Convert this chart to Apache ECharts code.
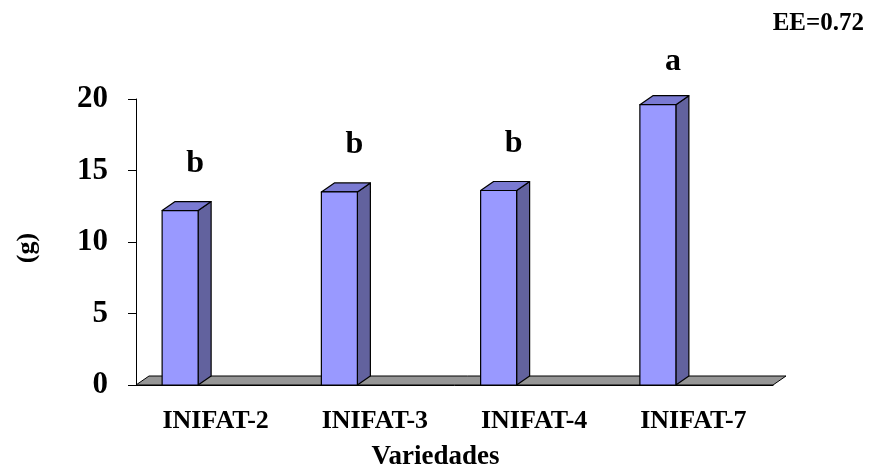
<!DOCTYPE html>
<html>
<head>
<meta charset="utf-8">
<script src="https://cdn.jsdelivr.net/npm/echarts@6/dist/echarts.min.js"></script>
<style>
  html, body { margin: 0; padding: 0; background: #fff; }
  #main { width: 873px; height: 470px; }
</style>
</head>
<body>
<div id="main"></div>
<script>
const categories = ['INIFAT-2', 'INIFAT-3', 'INIFAT-4', 'INIFAT-7'];
const values = [12.2, 13.5, 13.6, 19.6];
const letters = ['b', 'b', 'b', 'a'];
const yTicks = { min: 0, max: 20, interval: 5 };

const FONT = 'Liberation Serif';
const DX = 13, DY = 9; // depth of the 3d look

const chart = echarts.init(document.getElementById('main'));

function renderFloor(params, api) {
  const band = api.size([1, 0])[0];
  const y0 = api.coord([0, 0])[1];
  const left = api.coord([0, 0])[0] - band / 2;
  const right = api.coord([categories.length - 1, 0])[0] + band / 2;
  return {
    type: 'polygon',
    shape: { points: [[left, y0], [left + DX, y0 - DY], [right + DX, y0 - DY], [right, y0]] },
    style: { fill: '#969696', stroke: '#000', lineWidth: 1 }
  };
}

function renderBar(params, api) {
  const idx = api.value(0);
  const top = api.coord([idx, api.value(1)]);
  const base = api.coord([idx, 0]);
  const x0 = top[0] - 53.5;
  const x1 = x0 + 36;
  const yt = top[1];
  const yb = base[1];
  const sty = { stroke: '#000', lineWidth: 1.2, lineJoin: 'round' };
  const letter = letters[params.dataIndex];
  return {
    type: 'group',
    children: [
      {
        type: 'polygon',
        shape: { points: [[x1, yb], [x1 + DX, yb - DY], [x1 + DX, yt - DY], [x1, yt]] },
        style: Object.assign({ fill: '#62629e' }, sty)
      },
      {
        type: 'polygon',
        shape: { points: [[x0, yt], [x0 + DX, yt - DY], [x1 + DX, yt - DY], [x1, yt]] },
        style: Object.assign({ fill: '#7a7ad2' }, sty)
      },
      {
        type: 'rect',
        shape: { x: x0, y: yt, width: x1 - x0, height: yb - yt },
        style: Object.assign({ fill: '#9999ff' }, sty)
      },
      {
        type: 'text',
        style: {
          x: (x0 + x1) / 2 + 15,
          y: yt - DY - (letter === 'a' ? 34 : 38),
          text: letter,
          fill: '#000',
          font: 'bold 32px "' + FONT + '"',
          align: 'center',
          verticalAlign: 'middle'
        }
      }
    ]
  };
}

chart.setOption({
  backgroundColor: '#fff',
  animation: false,
  title: {
    text: 'EE=0.72',
    right: 4,
    top: 6,
    textStyle: { fontFamily: FONT, fontWeight: 'bold', fontSize: 25, color: '#000' }
  },
  grid: { left: 136, right: 100, top: 99, bottom: 85, outerBoundsMode: 'none' },
  xAxis: {
    type: 'category',
    data: categories,
    name: 'Variedades',
    nameLocation: 'middle',
    nameGap: 59,
    nameTextStyle: {
      fontFamily: FONT, fontWeight: 'bold', fontSize: 27, color: '#000',
      padding: [0, 38, 0, 0]
    },
    axisLine: { lineStyle: { color: '#000', width: 1 } },
    axisTick: { length: 8, lineStyle: { color: '#000' } },
    axisLabel: { margin: 23, fontFamily: FONT, fontWeight: 'bold', fontSize: 26, color: '#000' }
  },
  yAxis: {
    type: 'value',
    min: yTicks.min,
    max: yTicks.max,
    interval: yTicks.interval,
    name: '(g)',
    nameLocation: 'middle',
    nameRotate: 90,
    nameGap: 96,
    nameTextStyle: {
      fontFamily: FONT, fontWeight: 'bold', fontSize: 26, color: '#000',
      padding: [0, 12, 0, 0]
    },
    axisLine: { show: true, lineStyle: { color: '#000', width: 1 } },
    axisTick: { show: true, length: 8, lineStyle: { color: '#000' } },
    splitLine: { show: false },
    axisLabel: { margin: 28, fontFamily: FONT, fontWeight: 'bold', fontSize: 31, color: '#000' }
  },
  series: [
    {
      type: 'custom',
      renderItem: renderFloor,
      data: [[0, 0]],
      encode: { x: 0, y: 1 },
      z: 1,
      silent: true
    },
    {
      type: 'custom',
      renderItem: renderBar,
      data: values.map((v, i) => [i, v]),
      encode: { x: 0, y: 1 },
      z: 3
    }
  ]
});
</script>
</body>
</html>
